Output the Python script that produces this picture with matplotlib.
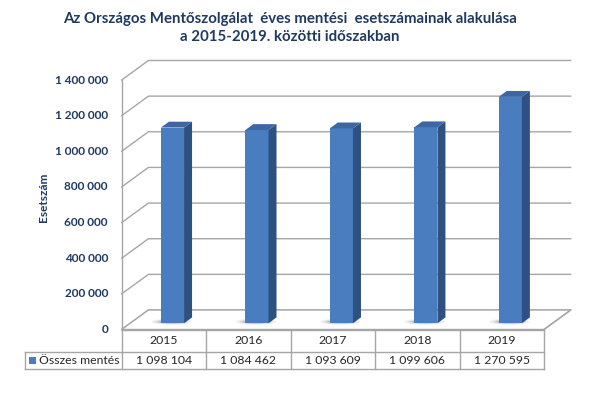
import matplotlib
matplotlib.use("Agg")
import matplotlib.pyplot as plt
import matplotlib.transforms as mtransforms
from matplotlib.patches import Polygon, Ellipse
import numpy as np

plt.rcParams['font.family'] = ['Lato', 'DejaVu Sans']

years = ['2015', '2016', '2017', '2018', '2019']
values = [1098104, 1084462, 1093609, 1099606, 1270595]
series_name = 'Összes mentés'
yticks = [0, 200000, 400000, 600000, 800000, 1000000, 1200000, 1400000]
title = 'Az Országos Mentőszolgálat  éves mentési  esetszámainak alakulása\na 2015-2019. közötti időszakban'
ylabel = 'Esetszám'

navy = '#1F3A60'
grid = '#A6A6A6'
c_front = '#4A7DC0'
c_side = '#2E5182'
c_top = '#3D66A3'

def fmt(v):
    return f'{v:,}'.replace(',', ' ')

W, H = 600, 397
fig = plt.figure(figsize=(6, 3.97), dpi=100)
# front plane of the 3d plot
ax = fig.add_axes([121.7 / W, (H - 329.5) / H, (544 - 121.7) / W, (329.5 - 80) / H])
ax.set_xlim(-0.5, len(years) - 0.5)
ax.set_ylim(0, 1400000)
ax.axis('off')

DX, DY = 26.7, 19.5  # depth vector in pixels
ident = mtransforms.IdentityTransform()

def proj(x, v, t):
    p = ax.transData.transform((x, v))
    return (p[0] + DX * t, p[1] + DY * t)

def poly(pts, **kw):
    fig.patches.append(Polygon(pts, closed=True, transform=ident, **kw))

def line(pts, **kw):
    pts = np.array(pts)
    fig.add_artist(plt.Line2D(pts[:, 0], pts[:, 1], transform=ident, **kw))

x0, x1 = -0.5, len(years) - 0.5

# floor
poly([proj(x0, 0, 0), proj(x1, 0, 0), proj(x1, 0, 1), proj(x0, 0, 1)],
     facecolor='white', edgecolor=grid, lw=1, zorder=1)

# walls / gridlines
line([proj(x0, 0, 0), proj(x0, yticks[-1], 0)], color=grid, lw=1, zorder=1)
for v in yticks:
    line([proj(x0, v, 0), proj(x0, v, 1), proj(x1, v, 1)], color=grid, lw=1, zorder=1)

# bars
h = 0.137
tf, tb = 0.32, 0.62
for i, v in enumerate(values):
    b = proj(i, 0, tf)
    # soft shadow at the base
    for wd, ht, a in [(40, 6, 0.10), (32, 4.5, 0.15), (26, 3, 0.2)]:
        fig.patches.append(Ellipse((b[0] - 1, b[1] + 1.5), wd, ht, transform=ident,
                                   facecolor='#555555', alpha=a, lw=0, zorder=2))
    poly([proj(i - h, 0, tf), proj(i + h, 0, tf), proj(i + h, v, tf), proj(i - h, v, tf)],
         facecolor=c_front, edgecolor='none', zorder=3)
    poly([proj(i + h, 0, tf), proj(i + h, 0, tb), proj(i + h, v, tb), proj(i + h, v, tf)],
         facecolor=c_side, edgecolor='none', zorder=3)
    poly([proj(i - h, v, tf), proj(i + h, v, tf), proj(i + h, v, tb), proj(i - h, v, tb)],
         facecolor=c_top, edgecolor='none', zorder=3)

# y tick labels
tr_y = mtransforms.blended_transform_factory(fig.transFigure, ax.transData)
for v in yticks:
    ax.text(108 / W, v, fmt(v), transform=tr_y, ha='right', va='center',
            fontsize=8.5, fontweight='bold', color=navy)
fig.text(43 / W, 1 - 197 / H, ylabel, rotation=90, ha='center', va='center',
         fontsize=8.5, fontweight='bold', color=navy)

# title
fig.text(290 / W, 1 - 28 / H, title, ha='center', va='center', fontsize=10.8,
         fontweight='bold', color=navy, linespacing=1.4)

# data table
r_top, r_mid, r_bot = 330, 351.7, 369
def py(r):
    return (H - r)
lx = 25
left_px = proj(x0, 0, 0)[0]
right_px = proj(x1, 0, 0)[0]
line([(left_px, py(r_top)), (right_px, py(r_top))], color=grid, lw=1, zorder=4)
line([(lx, py(r_mid)), (right_px, py(r_mid))], color=grid, lw=1, zorder=4)
line([(lx, py(r_bot)), (right_px, py(r_bot))], color=grid, lw=1, zorder=4)
line([(lx, py(r_mid)), (lx, py(r_bot))], color=grid, lw=1, zorder=4)
for k in range(len(years) + 1):
    xp = proj(x0 + k, 0, 0)[0]
    line([(xp, py(r_top)), (xp, py(r_bot))], color=grid, lw=1, zorder=4)
# right side of the floor
line([proj(x1, 0, 0), proj(x1, 0, 1)], color=grid, lw=1, zorder=4)

tr_t = mtransforms.blended_transform_factory(ax.transData, fig.transFigure)
for i, (yr, v) in enumerate(zip(years, values)):
    ax.text(i, 1 - (r_top + r_mid) / 2 / H, yr, transform=tr_t, ha='center', va='center',
            fontsize=8.8, color='#262626')
    ax.text(i, 1 - (r_mid + r_bot) / 2 / H, fmt(v), transform=tr_t, ha='center', va='center',
            fontsize=8.8, color='#262626')
yc = py((r_mid + r_bot) / 2)
fig.patches.append(Polygon([(29, yc - 3.5), (36, yc - 3.5), (36, yc + 3.5), (29, yc + 3.5)],
                           transform=ident, facecolor=c_front, edgecolor='none'))
fig.text(39 / W, yc / H, series_name, ha='left', va='center', fontsize=8.8, color='#262626')

fig.savefig('out.png', dpi=100)
